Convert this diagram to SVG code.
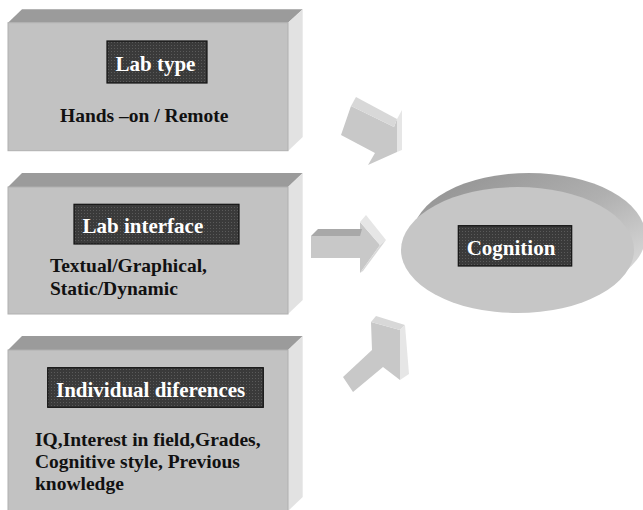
<svg xmlns="http://www.w3.org/2000/svg" width="643" height="510" viewBox="0 0 643 510">
<defs>
<pattern id="grid" width="3" height="3" patternUnits="userSpaceOnUse">
<rect width="3" height="3" fill="#3a3a3a"/>
<rect width="1" height="1" fill="#5a5a5a"/>
</pattern>
<linearGradient id="rim" x1="0" y1="0" x2="1" y2="1">
<stop offset="0" stop-color="#8e8e8e"/>
<stop offset="0.5" stop-color="#b0b0b0"/>
<stop offset="1" stop-color="#e8e8e8"/>
</linearGradient>
<style>
.front{fill:#c2c2c2;stroke:#b0b0b0;stroke-width:1}
.top{fill:#9b9b9b}
.side{fill:#e2e2e2}
.lbl{fill:url(#grid);stroke:#111;stroke-width:1.2}
.lt{font-family:"Liberation Serif","Times New Roman",serif;font-weight:bold;font-size:21px;fill:#fff}
.bt{font-family:"Liberation Serif","Times New Roman",serif;font-weight:bold;font-size:19.5px;fill:#111}
.af{fill:#c8c8c8}
.at{fill:#d8d8d8}
.as{fill:#e6e6e6}
.ad{fill:#a8a8a8}
</style>
</defs>
<rect width="643" height="510" fill="#fff"/>

<g id="lab-type">
<polygon class="top" points="8,22.7 22,9.3 302.7,9.3 288,22.7"/>
<polygon class="side" points="288,22.7 302.7,9.3 302.7,137 288,151"/>
<rect class="front" x="8" y="22.7" width="280" height="128"/>
<rect class="lbl" x="107" y="41" width="100" height="42"/>
<text class="lt" x="115.5" y="70.5">Lab type</text>
<text class="bt" x="60" y="122">Hands –on / Remote</text>
</g>

<g id="lab-interface">
<polygon class="top" points="8,187 22,173 302.7,173 288,187"/>
<polygon class="side" points="288,187 302.7,173 302.7,300 288,314"/>
<rect class="front" x="8" y="187" width="280" height="127"/>
<rect class="lbl" x="74" y="204.3" width="165" height="39.7"/>
<text class="lt" x="82.5" y="232.7">Lab interface</text>
<text class="bt" x="50" y="271.7">Textual/Graphical,</text>
<text class="bt" x="50" y="295">Static/Dynamic</text>
</g>

<g id="individual-differences">
<polygon class="top" points="8,350 22,336 302.7,336 288,350"/>
<polygon class="side" points="288,350 302.7,336 302.7,497 288,511"/>
<rect class="front" x="8" y="350" width="280" height="165"/>
<rect class="lbl" x="47.7" y="367.7" width="215.6" height="39.6"/>
<text class="lt" x="56" y="396.7">Individual diferences</text>
<text class="bt" x="35" y="445.7">IQ,Interest in field,Grades,</text>
<text class="bt" x="35" y="468">Cognitive style, Previous</text>
<text class="bt" x="35" y="490">knowledge</text>
</g>

<g id="cognition">
<ellipse cx="529" cy="236" rx="116.5" ry="63" fill="url(#rim)"/>
<ellipse cx="517.5" cy="250" rx="116.5" ry="63" fill="#c6c6c6"/>
<rect class="lbl" x="458.3" y="225.7" width="113.4" height="40.3"/>
<text class="lt" x="466.7" y="255">Cognition</text>
</g>

<g id="connectors">
<g id="arrow-1">
<polygon class="af" points="351,106 394,127 397,119 397,152 368,165 375,153 341,135"/>
<polygon class="at" points="356,97 397,119 394,127 351,106"/>
<polygon class="as" points="397,119 402,110 402,150 397,152"/>
</g>
<g id="arrow-2">
<polygon class="af" points="311,236 360,236 360,222 380,245 360,273 360,258 311,258"/>
<polygon class="ad" points="311,236 318,229 362,229 360,236"/>
<polygon class="as" points="360,222 366,215 386,240 380,245"/>
<polygon class="at" points="380,245 386,240 363,271 360,273"/>
</g>
<g id="arrow-3">
<polygon class="af" points="343,377 372,350 371,322 400,330 400,380 383,367 353,392"/>
<polygon class="at" points="371,322 376,316 405,325 400,330"/>
<polygon class="as" points="400,330 405,325 409,374 400,380"/>
</g>
</g>
</svg>
